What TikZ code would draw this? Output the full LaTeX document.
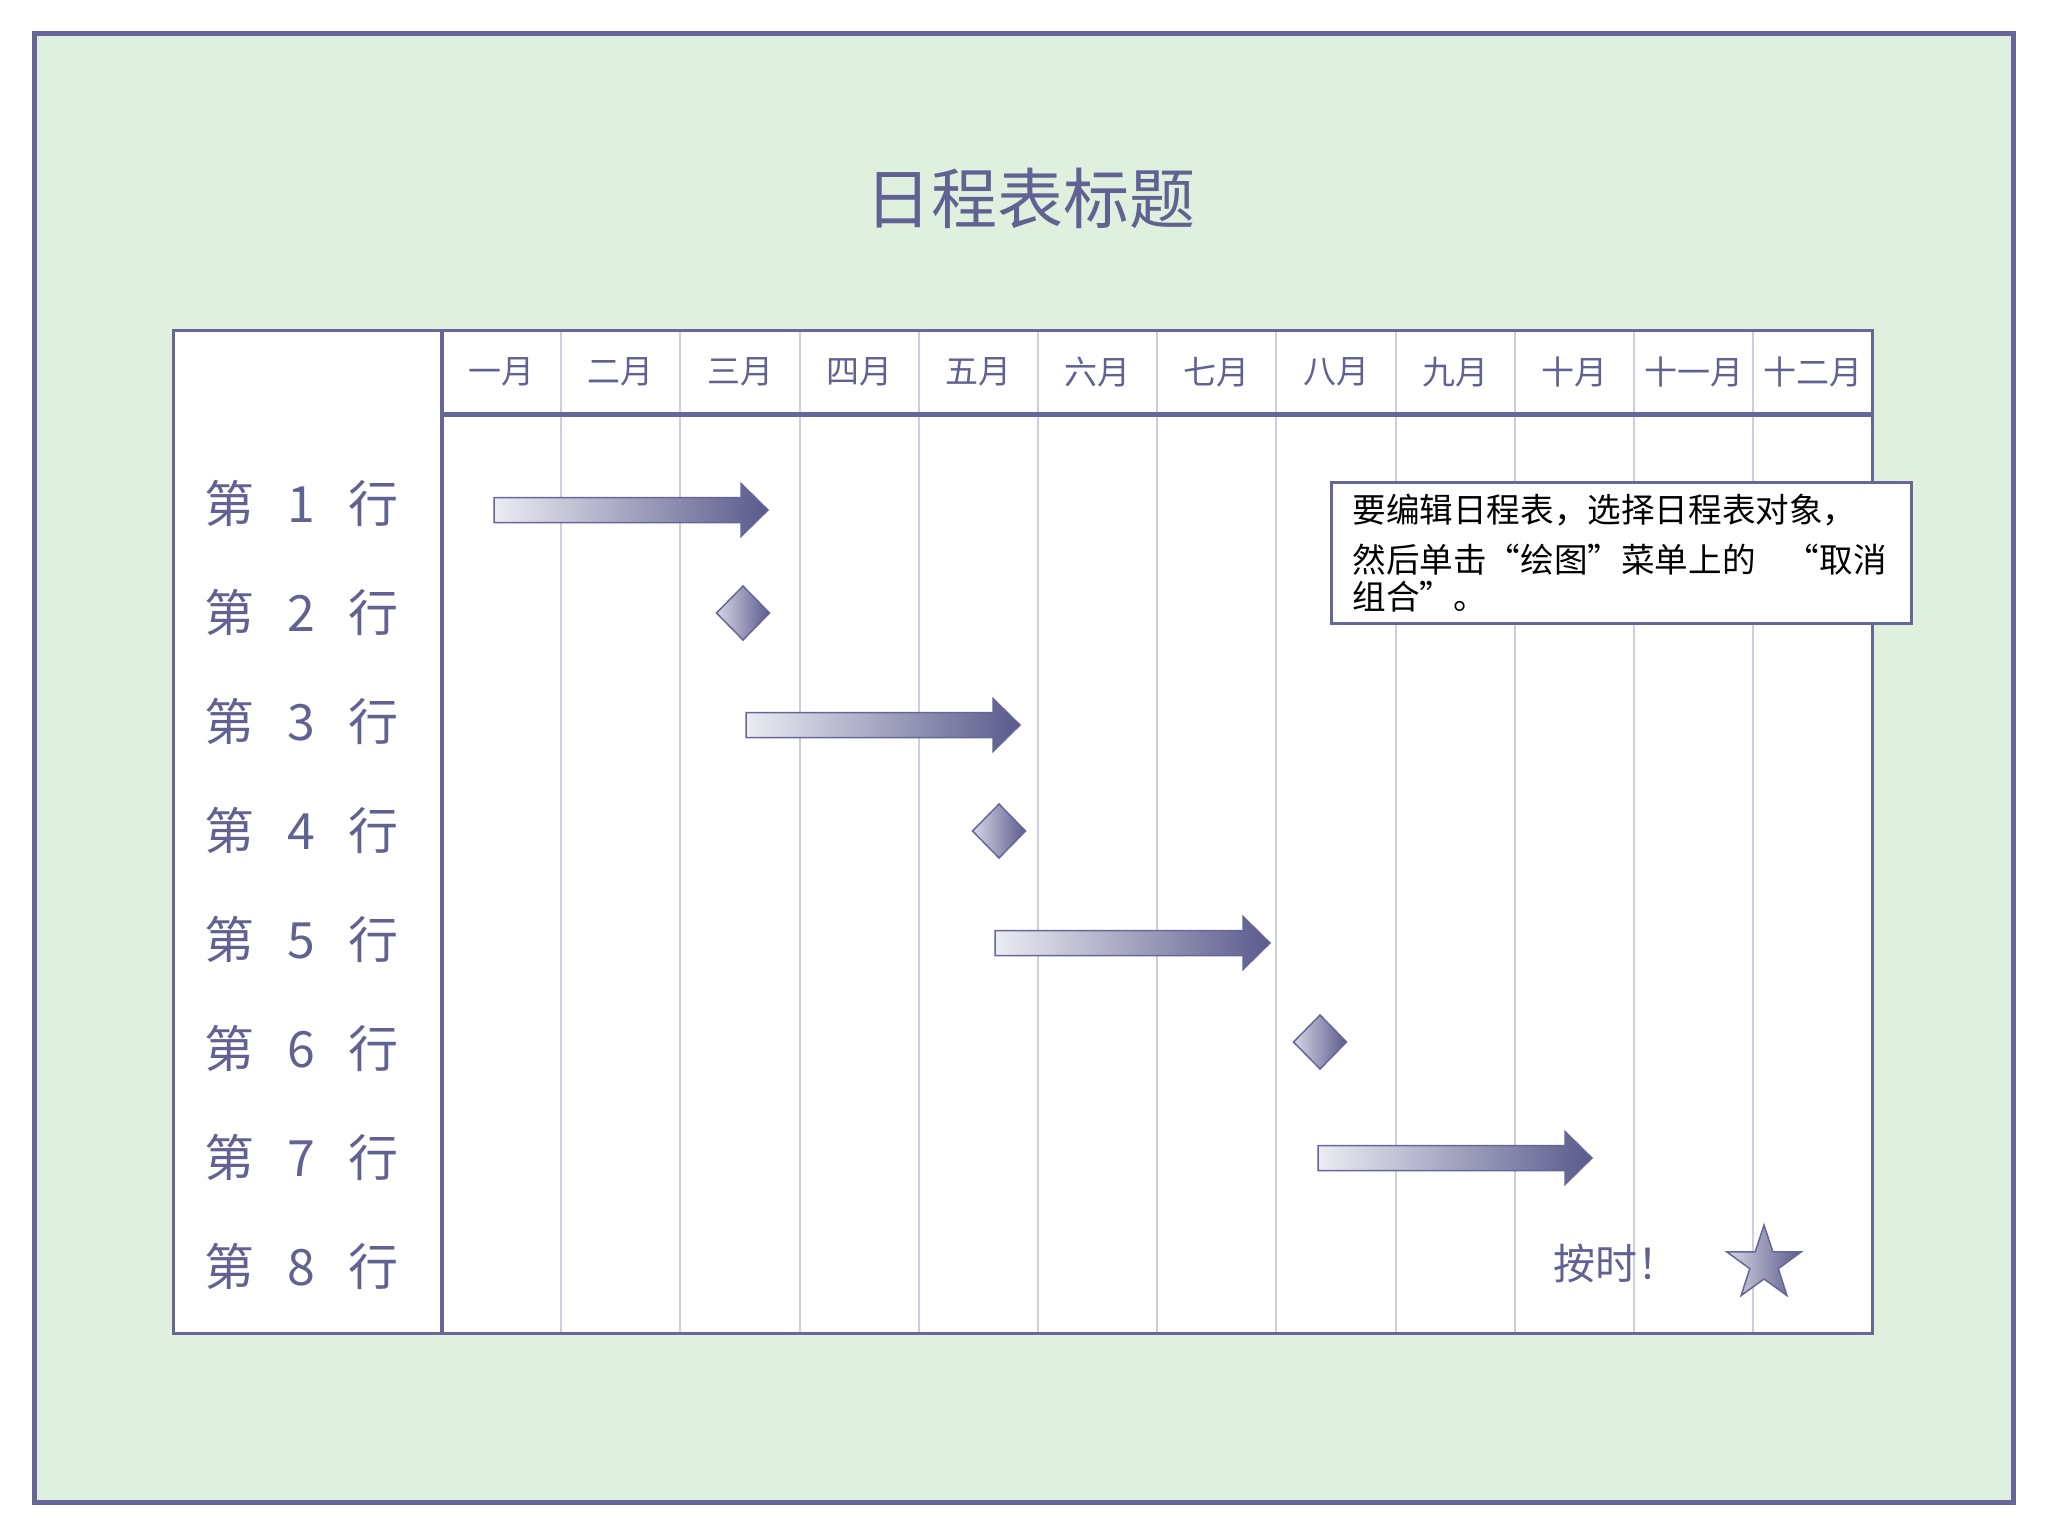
\documentclass[tikz,border=0pt]{standalone}
\usepackage{fontspec}
\newfontfamily\cjk{Noto Sans CJK SC}
\definecolor{frame}{RGB}{102,102,153}
\definecolor{gridc}{RGB}{206,206,224}
\definecolor{bg}{RGB}{223,240,222}
\definecolor{inkc}{RGB}{98,98,146}
\definecolor{lightend}{RGB}{236,236,243}
\definecolor{darkend}{RGB}{90,90,140}
\newcommand\myLQ{\makebox[1em][r]{“}}
\newcommand\myRQ{\makebox[1em][l]{”}}
\tikzset{
  frameline/.style={draw=frame, line width=2.5pt},
  gridline/.style={draw=gridc, line width=1pt},
  barshade/.style={draw=frame, line width=0.75pt, left color=lightend, right color=darkend},
  markshade/.style={draw=frame, line width=0.75pt, left color=lightend!85!darkend, right color=darkend},
  monthlab/.style={font=\cjk\fontsize{16.5}{20}\selectfont, text=inkc, inner sep=0pt},
  rowlab/.style={font=\cjk\fontsize{25}{30}\selectfont, text=inkc, inner sep=0pt},
  notetext/.style={font=\cjk\fontsize{16.8}{20}\selectfont, text=black, inner sep=0pt, anchor=west},
}
\newcommand\garrow[4]{%
  \draw[barshade] (#2,#4-12.5) -- (#3-27,#4-12.5) -- (#3-27,#4-26.5) -- (#3,#4)
    -- (#3-27,#4+26.5) -- (#3-27,#4+12.5) -- (#2,#4+12.5) -- cycle;
  \coordinate (#1) at (#3,#4);}
\newcommand\gdiamond[3]{%
  \draw[markshade] (#2-26.5,#3) -- (#2,#3-27) -- (#2+26.5,#3) -- (#2,#3+27) -- cycle;
  \coordinate (#1) at (#2,#3);}
\begin{document}
\begin{tikzpicture}[x=0.5pt,y=-0.5pt]
\useasboundingbox (0,0) rectangle (2048,1536);
\fill[white] (0,0) rectangle (2048,1536);
% outer frame
\draw[frameline, fill=bg] (34,34) rectangle (2013,1502);
% title
\node[font=\cjk\fontsize{33}{40}\selectfont, text=inkc] (title) at (1030,198) {日程表标题};
% table
\fill[white] (173,330) rectangle (1872,1333);
\foreach \i in {1,...,11} \draw[gridline] (442+\i*119.2,330) -- (442+\i*119.2,1333);
\draw[draw=frame, line width=2.5pt] (442,414.5) -- (1872,414.5);
\draw[draw=frame, line width=2pt] (442,330) -- (442,1333);
\draw[draw=frame, line width=1.5pt] (173,330) rectangle (1872,1333);
% months
\foreach \m [count=\i] in {一月,二月,三月,四月,五月,六月,七月,八月,九月,十月,十一月,十二月}
  \node[monthlab] (m\i) at (442+\i*119.2-59.6,372) {\m};
% row labels
\foreach \i in {1,...,8}
  \node[rowlab] (r\i) at (301,{503+(\i-1)*109.1}) {\makebox[36pt]{第}\makebox[36pt]{\i}\makebox[36pt]{行}};
% bars and milestones
\garrow{a1}{494}{768}{510}
\gdiamond{d2}{743}{613}
\garrow{a3}{746}{1020}{725}
\gdiamond{d4}{999}{831}
\garrow{a5}{995}{1270}{943}
\gdiamond{d6}{1320}{1042}
\garrow{a7}{1318}{1592}{1158}
% on time
\node[font=\cjk\fontsize{21}{25}\selectfont, text=inkc, inner sep=0pt, anchor=west] (ontime) at (1553,1263) {按时！};
\draw[markshade]
  ([shift={(1764,1264)}]-90:39) -- ([shift={(1764,1264)}]-54:15) --
  ([shift={(1764,1264)}]-18:39) -- ([shift={(1764,1264)}]18:15) --
  ([shift={(1764,1264)}]54:39) -- ([shift={(1764,1264)}]90:15) --
  ([shift={(1764,1264)}]126:39) -- ([shift={(1764,1264)}]162:15) --
  ([shift={(1764,1264)}]198:39) -- ([shift={(1764,1264)}]234:15) -- cycle;
\coordinate (star) at (1764,1264);
% callout
\draw[draw=frame, line width=1.5pt, fill=white] (1331,482) rectangle (1911,623);
\node[notetext] (n1) at (1352,510) {要编辑日程表，选择日程表对象，};
\node[notetext] (n2) at (1352,560) {然后单击\myLQ 绘图\myRQ 菜单上的\hspace{0.9em}\myLQ 取消};
\node[notetext] (n3) at (1352,597) {组合\myRQ 。};
\end{tikzpicture}
\end{document}
